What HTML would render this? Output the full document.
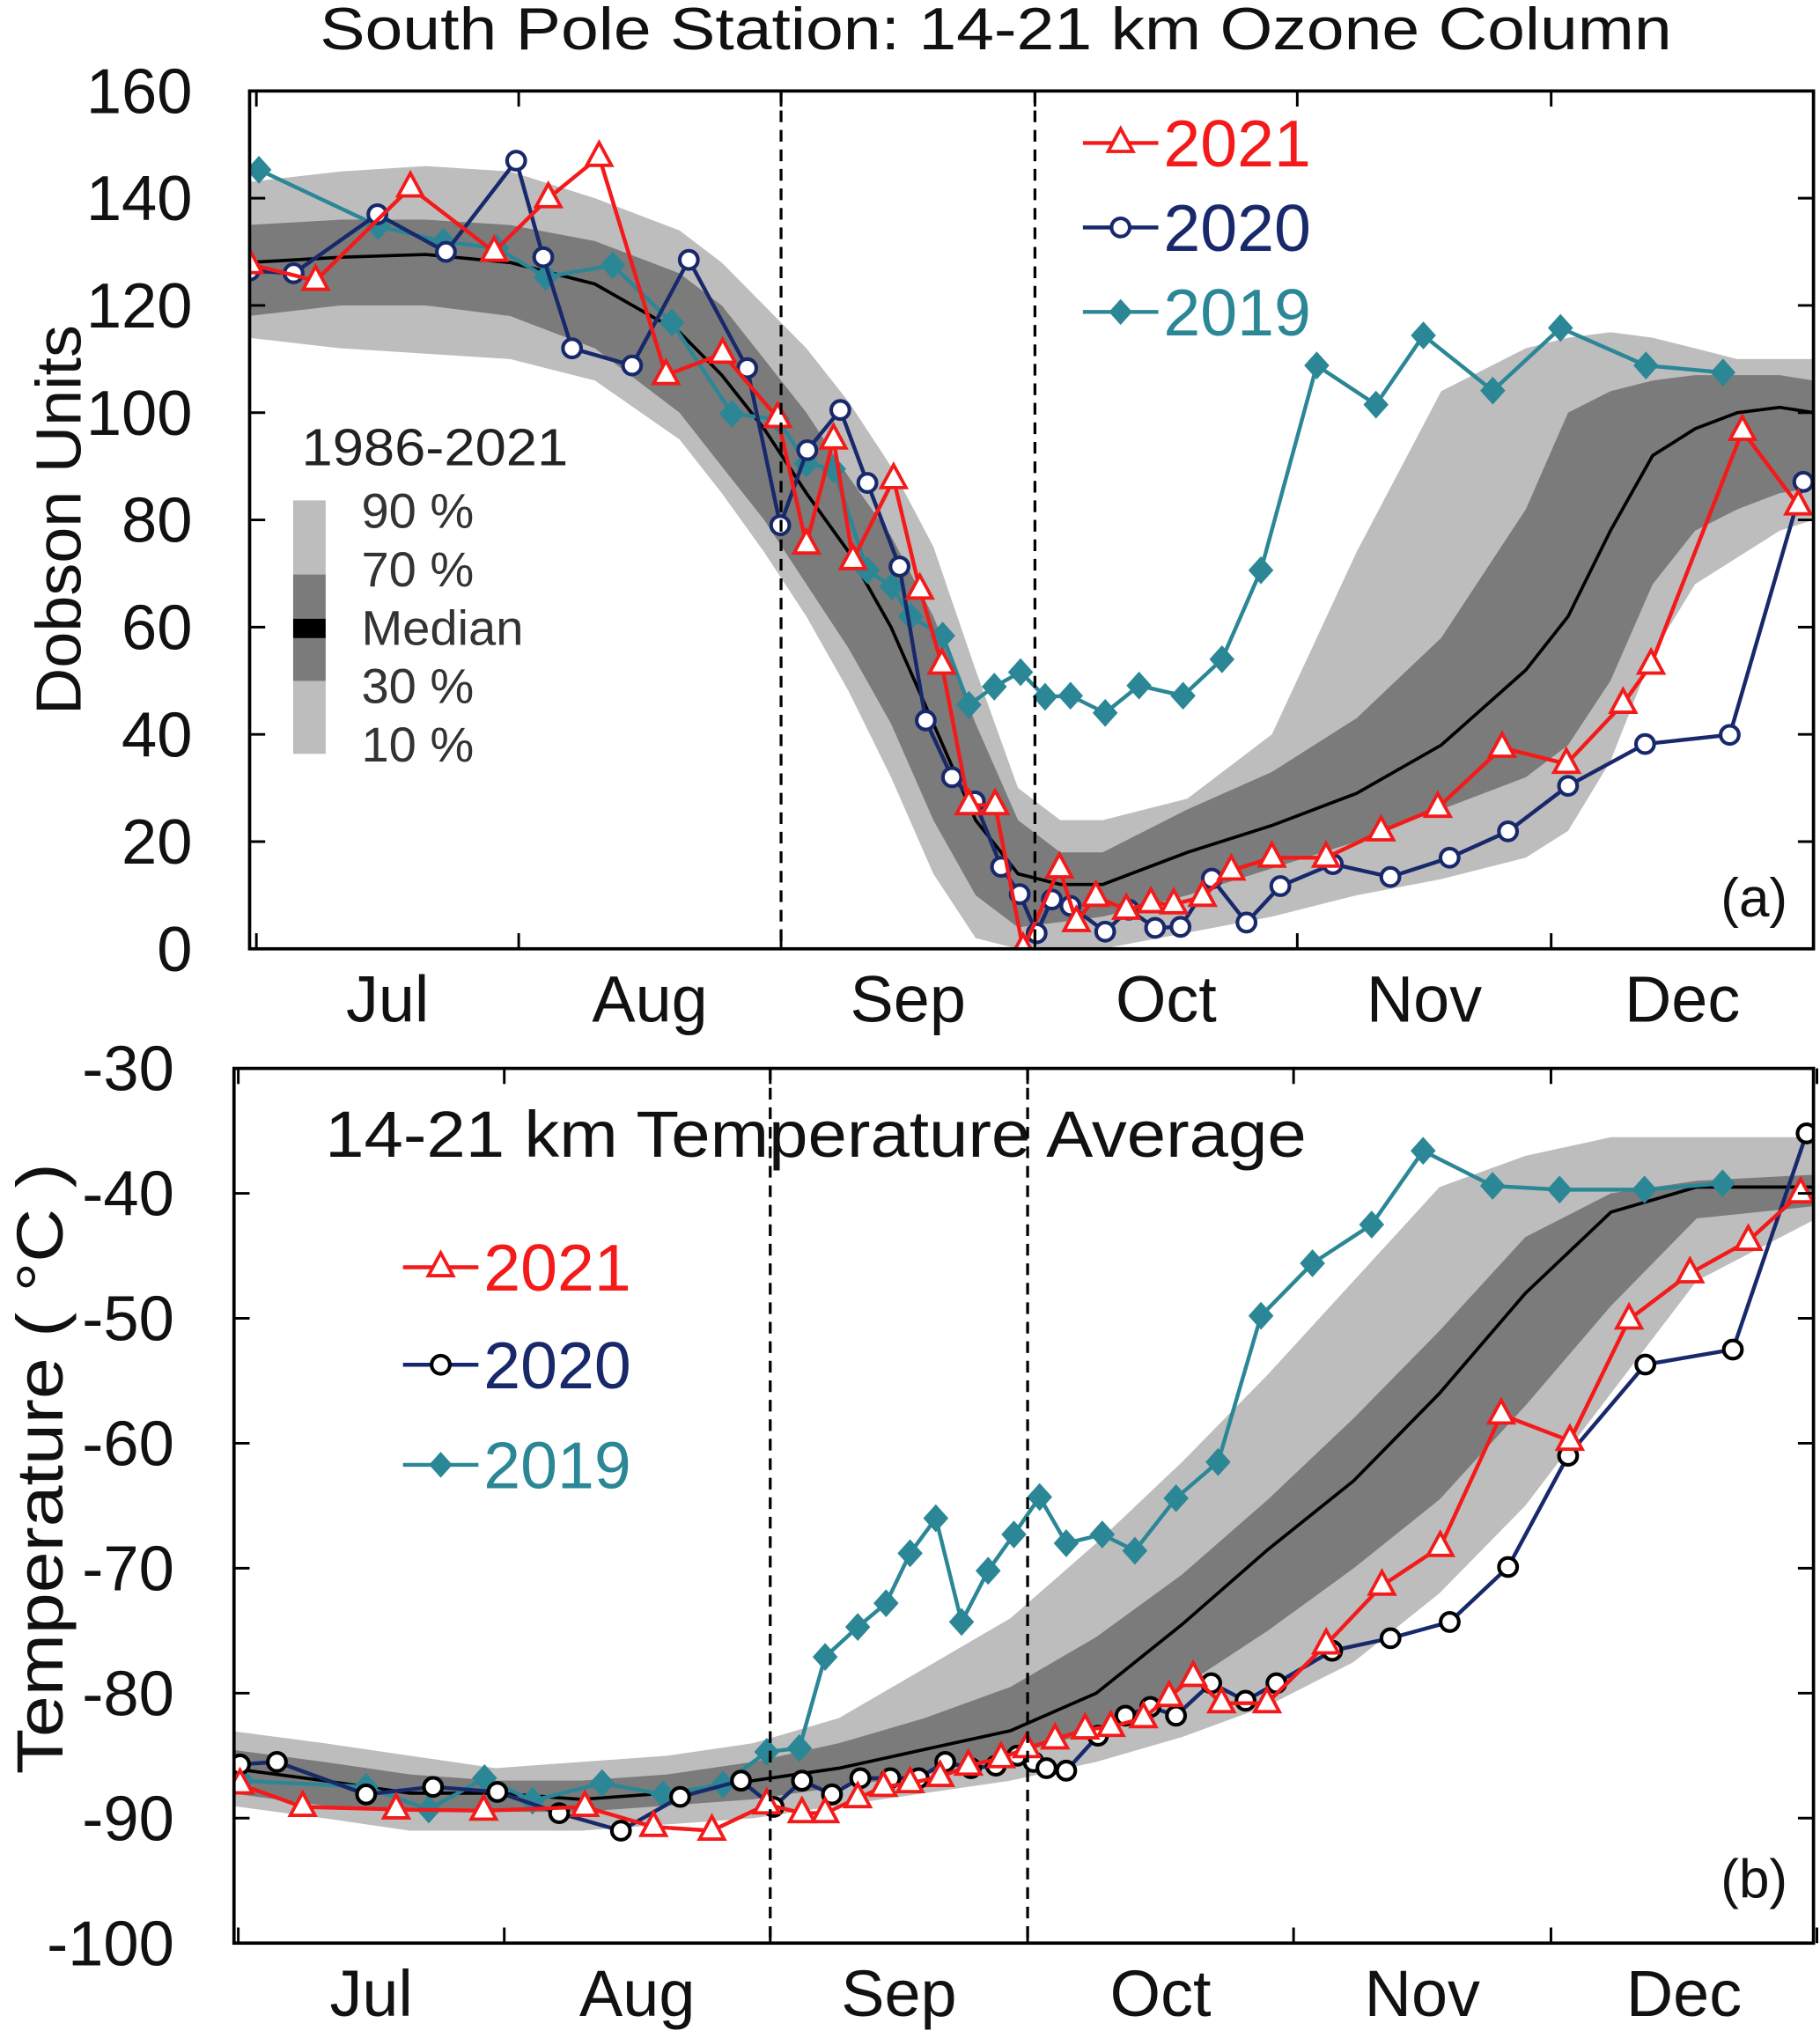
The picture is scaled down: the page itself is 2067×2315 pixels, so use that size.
<!DOCTYPE html>
<html><head><meta charset="utf-8"><style>
html,body{margin:0;padding:0;background:#fff;}
svg{display:block;font-family:"Liberation Sans",Arial,sans-serif;}
</style></head><body>
<svg id="chart" width="2067" height="2315" viewBox="0 0 1400 1568" preserveAspectRatio="none" xmlns="http://www.w3.org/2000/svg">
<defs>
<clipPath id="clipA"><rect x="192" y="70" width="1203" height="660"/></clipPath>
<clipPath id="clipB"><rect x="180" y="822" width="1215" height="673"/></clipPath>
</defs>
<text x="766" y="38" font-size="46" text-anchor="middle" textLength="1040" lengthAdjust="spacingAndGlyphs" fill="#111">South Pole Station:  14-21 km Ozone Column</text>
<g id="panelA"></g>
<g id="panelB"></g>
</svg>
<script>
// ---------- Panel A data (days since Jul 1, Dobson Units) ----------
const bandDaysA = [-1,10,20,30,40,50,55,60,65,70,75,80,85,90,95,100,110,120,130,140,150,155,160,165,170,175,180,184];
const medA = [128,129,129.5,128,124,115,107,97,85,74,60,42,24,14,12,12,18,23,29,38,52,62,78,92,97,100,101,100];
const p30A = [118,120,120,118,112,100,90,80,68,56,42,24,10,4,5,6,10,15,20,26,32,38,50,68,78,82,85,86];
const p70A = [135,136,136,135,132,126,120,110,100,88,77,62,42,24,18,18,26,33,43,58,82,100,104,106,107,107,107,106];
const p10A = [114,112,111,110,106,95,85,74,62,48,32,14,2,0,0,0,3,6,10,13,17,22,35,55,68,73,78,80];
const p90A = [143,145,146,145,140,134,128,120,112,102,90,75,52,30,24,24,28,40,74,104,112,114,115,114,112,110,110,110];

const days2021A = [-0.8,7,18.2,28.1,34.5,40.5,48.4,55.1,61.6,65,68.2,70.5,75.3,78.4,81,84.2,87.3,90.6,94.9,96.9,99.2,102.8,105.7,108.4,111.8,115.2,120,126.4,132.9,139.6,147.2,154.8,161.5,164.8,175.6,182.2];
const vals2021A = [127.7,124.6,142,130,140,147.7,107,111,99,75.4,95,72.5,87.6,67,53,26.8,26.8,0,15,5,9.7,7.3,8.5,8.3,9.7,14.6,17,17,21.9,26.3,37.5,34.5,45.7,53,96.6,82.7];
const days2020A = [-0.8,4.4,14.3,22.4,30.7,33.9,37.3,44.4,51.1,58,61.9,65.1,69,72.2,76,79.1,82.2,84.9,88,90.2,92.2,94,96.2,100.3,103.1,106.2,109.2,112.9,117,121,127.2,134,141,147.9,155,164.1,174.1,182.8];
const vals2020A = [126.5,126,137,130,147,129,112,108.8,128.5,108.3,79,93,100.5,86.9,71.3,42.6,32,27.5,15.3,10.2,2.9,9.2,8,3.2,7.3,3.9,4.1,13.1,4.9,11.7,15.8,13.4,17,21.9,30.4,38.2,39.9,87.1];
const days2019A = [0.3,14.4,22.1,28.4,34.2,42.1,49.1,56.2,61.6,65,68.2,72.2,75.1,77.3,81.1,84.2,87.2,90.3,93.2,96.2,100.3,104.3,109.5,114.1,118.7,125.3,132.3,137.9,146.1,154.1,164.2,173.3];
const vals2019A = [145.3,134.8,131.9,130.7,125.3,127.5,116.8,99.8,98.8,90.5,89.5,70.6,67.6,62,58.4,45.5,48.9,51.6,47,47.2,44,49.1,47.2,54,70.6,108.8,101.5,114.4,104.1,115.8,108.8,107.5];
const yTicksA = [0,20,40,60,80,100,120,140,160];
const monthsLabels = ["Jul","Aug","Sep","Oct","Nov","Dec"];
const monthStarts = [0,31,62,92,123,153,184];

// ---------- Panel B data (days since Jul 1, deg C) ----------
const bandDaysB = [-1,10,20,30,40,50,60,70,80,90,100,110,120,130,140,150,160,170,184];
const medB = [-86,-87,-88,-88,-88.5,-88,-87,-86,-84.5,-83,-80,-74.5,-68.5,-63,-56,-48,-41.5,-39.5,-39.5];
const p30B = [-88,-89,-89.5,-89.5,-89.5,-89,-88.5,-87.5,-86.5,-85,-83,-79.5,-75,-70,-64.5,-57,-49,-42,-41];
const p70B = [-84.5,-85.5,-86.5,-87,-87,-86.5,-85.5,-84,-82,-79.5,-75.5,-70.5,-64.5,-58,-51,-43.5,-40,-39,-38.5];
const p10B = [-89,-90,-91,-91,-91,-90.5,-90,-89,-88,-87,-85.5,-83.5,-81,-77.5,-72,-65,-56,-47,-42];
const p90B = [-83,-84,-85,-86,-85.5,-85,-84,-82,-78,-74,-68,-61.5,-54.5,-47,-39.5,-37,-35.5,-35.5,-35.5];

const days2021B = [0.2,7.5,18.4,28.6,40.4,48.4,55.2,61.6,65.7,68.4,72.2,75.2,78.3,81.8,85.1,88.9,91.9,95.2,98.7,101.7,105.5,108.5,111.3,114.6,119.9,126.8,133.3,140.1,147.2,155.2,162.1,169.2,176,182.1];
const vals2021B = [-87.3,-89.1,-89.3,-89.4,-89.1,-90.7,-91,-88.9,-89.6,-89.6,-88.4,-87.5,-87.2,-86.7,-85.8,-85.2,-84.4,-83.7,-82.9,-82.7,-82,-80.3,-78.7,-80.8,-80.8,-76.1,-71.4,-68.3,-57.7,-59.8,-50.1,-46.4,-43.8,-40];
const days2020B = [0.2,4.5,14.9,22.7,30.2,37.4,44.6,51.5,58.6,62.4,65.7,69.2,72.5,76,79.3,82.4,85.4,88.3,90.8,92.7,94.2,96.5,100.2,103.4,106.3,109.3,113.4,117.4,121,127.5,134.3,141.2,148,155,164,174.2,182.8];
const vals2020B = [-85.7,-85.5,-88.1,-87.5,-87.9,-89.6,-91,-88.3,-87,-89.1,-87,-88.1,-86.8,-86.8,-86.8,-85.5,-86,-85.8,-85,-85.5,-86,-86.2,-83.4,-81.8,-81.1,-81.8,-79.2,-80.6,-79.2,-76.6,-75.6,-74.3,-69.9,-61,-53.7,-52.5,-35.2];
const days2019B = [0.4,14.9,22.2,28.7,34.3,42.4,49.5,56.5,61.6,65.4,68.4,72.2,75.5,78.3,81.3,84.3,87.4,90.4,93.4,96.5,100.7,104.5,109.3,114.2,119.2,125.2,132.1,138.1,146.2,154,163.9,173];
const vals2019B = [-87,-87.5,-89.3,-86.8,-88.6,-87.2,-88.1,-87.3,-84.7,-84.4,-77.1,-74.7,-72.8,-68.8,-66,-74.3,-70.2,-67.3,-64.3,-68,-67.3,-68.6,-64.4,-61.5,-49.8,-45.6,-42.5,-36.6,-39.4,-39.7,-39.7,-39.2];
const yTicksB = [-100,-90,-80,-70,-60,-50,-40,-30];

const NS = "http://www.w3.org/2000/svg";
const RED = "#f41a1a", NAVY = "#18296b", TEAL = "#2b8796", LIGHT = "#bdbdbd", DARK = "#7b7b7b";

function mk(parent, tag, attrs) {
  const e = document.createElementNS(NS, tag);
  for (const k in attrs) e.setAttribute(k, attrs[k]);
  parent.appendChild(e);
  return e;
}

function drawPanel(g, cfg) {
  const {L,R,T,B,dayL,dayR,vMin,vMax} = cfg;
  const xs = d => L + (d - dayL) / (dayR - dayL) * (R - L);
  const ys = v => B - (v - vMin) / (vMax - vMin) * (B - T);
  const plot = mk(g, 'g', {'clip-path': 'url(#' + cfg.clip + ')'});
  
  

  function band(lo, hi, fill, name) {
    let d = '';
    cfg.bd.forEach((x,i) => { d += (i ? 'L' : 'M') + xs(x).toFixed(1) + ',' + ys(hi[i]).toFixed(1); });
    for (let i = cfg.bd.length - 1; i >= 0; i--) d += 'L' + xs(cfg.bd[i]).toFixed(1) + ',' + ys(lo[i]).toFixed(1);
    const p = mk(plot, 'path', {d: d + 'Z', fill: fill});
    
    
  }
  band(cfg.p10, cfg.p90, LIGHT, 'band-10-90');
  band(cfg.p30, cfg.p70, DARK, 'band-30-70');
  const med = mk(plot, 'polyline', {points: cfg.bd.map((x,i) => xs(x).toFixed(1)+','+ys(cfg.med[i]).toFixed(1)).join(' '), fill:'none', stroke:'#000', 'stroke-width':2.5});
  
  

  [62, 92].forEach(d => {
    const l = mk(g, 'line', {x1: xs(d), x2: xs(d), y1: T, y2: B, stroke:'#000', 'stroke-width':2.2, 'stroke-dasharray':'9,6'});
    
    
  });

  function series(days, vals, color, marker, name, mColor) {
    const sg = mk(plot, 'g', {});
    
    
    mk(sg, 'polyline', {points: days.map((d,i) => xs(d).toFixed(1)+','+ys(vals[i]).toFixed(1)).join(' '), fill:'none', stroke:color, 'stroke-width':3});
    const mc = mColor || color;
    days.forEach((d,i) => {
      const x = xs(d), y = ys(vals[i]);
      let m;
      if (marker === 'tri') m = mk(sg, 'polygon', {points: `${x},${y-11} ${x-9.5},${y+6.5} ${x+9.5},${y+6.5}`, fill:'#fff', stroke:mc, 'stroke-width':2.6});
      else if (marker === 'circ') m = mk(sg, 'circle', {cx:x, cy:y, r:7, fill:'#fff', stroke:mc, 'stroke-width':2.8});
      else m = mk(sg, 'polygon', {points: `${x},${y-10} ${x+9},${y} ${x},${y+10} ${x-9},${y}`, fill:mc, stroke:mc, 'stroke-width':1});
      
      
    });
  }
  series(cfg.d19, cfg.v19, TEAL, 'dia', 'series-2019');
  series(cfg.d20, cfg.v20, NAVY, 'circ', 'series-2020', cfg.c20);
  series(cfg.d21, cfg.v21, RED, 'tri', 'series-2021');

  const fr = mk(g, 'rect', {x:L, y:T, width:R-L, height:B-T, fill:'none', stroke:'#000', 'stroke-width':2.5});
  
  
  cfg.yt.forEach(v => {
    const y = ys(v);
    mk(g, 'line', {x1:L, x2:L+12, y1:y, y2:y, stroke:'#000', 'stroke-width':2});
    mk(g, 'line', {x1:R-12, x2:R, y1:y, y2:y, stroke:'#000', 'stroke-width':2});
    const t = mk(g, 'text', {x: cfg.labX, y: y + 17, 'font-size': 49, 'text-anchor':'end', fill:'#111'});
    t.textContent = v;
    
    
  });
  monthStarts.forEach(d => {
    const x = xs(d);
    mk(g, 'line', {x1:x, x2:x, y1:B, y2:B-12, stroke:'#000', 'stroke-width':2});
    mk(g, 'line', {x1:x, x2:x, y1:T, y2:T+12, stroke:'#000', 'stroke-width':2});
  });
  monthsLabels.forEach((m,i) => {
    const x = xs((monthStarts[i] + monthStarts[i+1]) / 2);
    const t = mk(g, 'text', {x: x, y: B + 56, 'font-size': 50, 'text-anchor':'middle', fill:'#111'});
    t.textContent = m;
    
    
  });
}

const gA = document.getElementById('panelA');
drawPanel(gA, {L:192,R:1395,T:70,B:730,dayL:-0.8,dayR:184,vMin:0,vMax:160,clip:'clipA',labX:148,
  bd:bandDaysA,med:medA,p30:p30A,p70:p70A,p10:p10A,p90:p90A,
  d21:days2021A,v21:vals2021A,d20:days2020A,v20:vals2020A,d19:days2019A,v19:vals2019A,yt:yTicksA});
const gB = document.getElementById('panelB');
drawPanel(gB, {L:180,R:1395,T:822,B:1495,dayL:-0.5,dayR:183.6,vMin:-100,vMax:-30,clip:'clipB',labX:134,c20:'#000',
  bd:bandDaysB,med:medB,p30:p30B,p70:p70B,p10:p10B,p90:p90B,
  d21:days2021B,v21:vals2021B,d20:days2020B,v20:vals2020B,d19:days2019B,v19:vals2019B,yt:yTicksB});

function legend(g, x0, ys, fs, c20) {
  const items = [["2021",RED,'tri'],["2020",NAVY,'circ'],["2019",TEAL,'dia']];
  items.forEach((it,i) => {
    const y = ys[i];
    const lg = mk(g, 'g', {});
    
    
    mk(lg, 'line', {x1:x0, x2:x0+58, y1:y, y2:y, stroke:it[1], 'stroke-width':3});
    const cx = x0 + 29;
    if (it[2]==='tri') mk(lg, 'polygon', {points:`${cx},${y-11} ${cx-9.5},${y+6.5} ${cx+9.5},${y+6.5}`, fill:'#fff', stroke:it[1], 'stroke-width':2.6});
    else if (it[2]==='circ') mk(lg, 'circle', {cx:cx, cy:y, r:7, fill:'#fff', stroke:c20 || it[1], 'stroke-width':2.8});
    else mk(lg, 'polygon', {points:`${cx},${y-10} ${cx+9},${y} ${cx},${y+10} ${cx-9},${y}`, fill:it[1]});
    const t = mk(lg, 'text', {x:x0+62, y:y+18, 'font-size':fs, fill:it[1]});
    t.textContent = it[0];
  });
}
legend(gA, 833, [110,175,240], 51);
legend(gB, 310, [975,1050,1127], 51, '#000');

function txt(g, x, y, s, fs, name, extra) {
  const t = mk(g, 'text', Object.assign({x:x, y:y, 'font-size':fs, fill:'#111'}, extra||{}));
  t.textContent = s;
  
  
  return t;
}
txt(gA, 62, 400, 'Dobson Units', 49, 'y-axis-title', {transform:'rotate(-90 62 400)', 'text-anchor':'middle', textLength:300, lengthAdjust:'spacingAndGlyphs'});
txt(gB, 48, 1130, 'Temperature ( °C )', 50, 'y-axis-title', {transform:'rotate(-90 48 1130)', 'text-anchor':'middle', textLength:470, lengthAdjust:'spacingAndGlyphs'});
txt(gA, 1375, 705, '(a)', 42, 'panel-label', {'text-anchor':'end'});
txt(gB, 1375, 1460, '(b)', 42, 'panel-label', {'text-anchor':'end'});
txt(gB, 250, 890, '14-21 km  Temperature Average', 50, 'panel-title', {textLength:755, lengthAdjust:'spacingAndGlyphs'});
txt(gA, 232, 358, '1986-2021', 40, 'band-legend-title', {fill:'#222', textLength:205, lengthAdjust:'spacingAndGlyphs'});
[[385,442,LIGHT],[442,476,DARK],[476,491,'#000'],[491,524,DARK],[524,580,LIGHT]].forEach(s => {
  const r = mk(gA, 'rect', {x:225.5, y:s[0], width:25, height:s[1]-s[0], fill:s[2]});
  
  
});
[['90 %',406],['70 %',451],['Median',496],['30 %',541],['10 %',586]].forEach(l => {
  txt(gA, 278, l[1], l[0], 38, 'band-legend-label', {fill:'#333'});
});
</script>
</body></html>
